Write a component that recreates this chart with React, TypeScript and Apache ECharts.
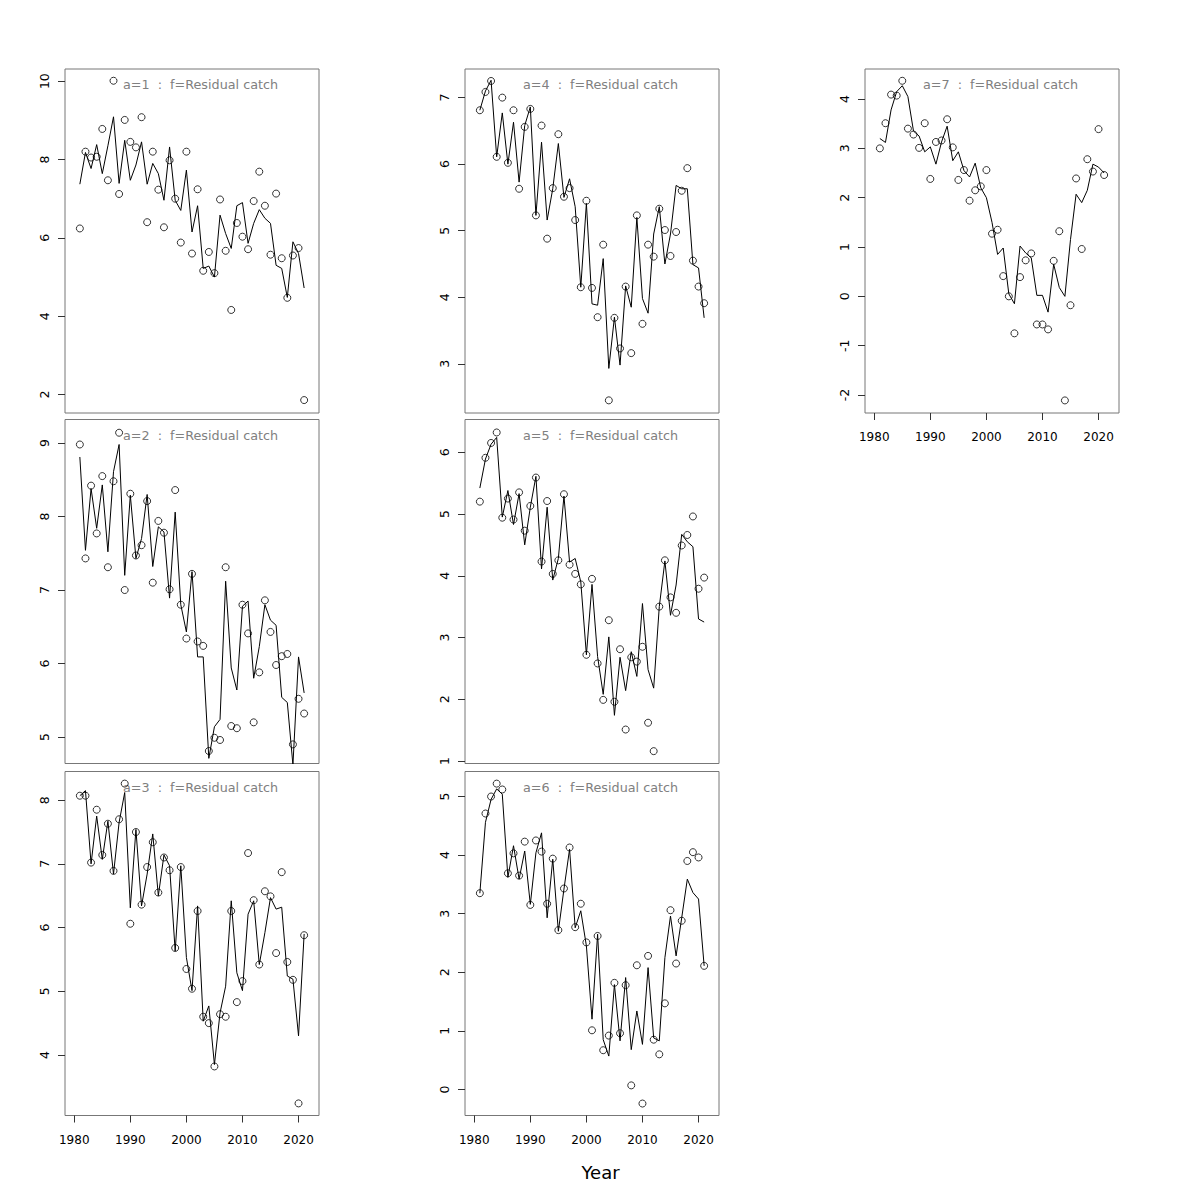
import React, { useEffect, useRef } from "react";
import * as echarts from "echarts";

const years = [
  1981, 1982, 1983, 1984, 1985, 1986, 1987, 1988, 1989, 1990,
  1991, 1992, 1993, 1994, 1995, 1996, 1997, 1998, 1999, 2000,
  2001, 2002, 2003, 2004, 2005, 2006, 2007, 2008, 2009, 2010,
  2011, 2012, 2013, 2014, 2015, 2016, 2017, 2018, 2019, 2020,
  2021,
];

const xTicks = [1980, 1990, 2000, 2010, 2020];

const obsA1 = [6.24, 8.2, 8.05, 8.07, 8.78, 7.47, 10.01, 7.12, 9.01, 8.45, 8.31, 9.08, 6.4, 8.2, 7.23, 6.27, 7.98, 7.0, 5.88, 8.2, 5.6, 7.24, 5.16, 5.64, 5.1, 6.98, 5.67, 4.16, 6.38, 6.03, 5.71, 6.94, 7.69, 6.82, 5.57, 7.13, 5.48, 4.47, 5.55, 5.74, 1.86];
const fitA1 = [7.37, 8.18, 7.77, 8.38, 7.64, 8.35, 9.09, 7.39, 8.49, 7.47, 7.86, 8.45, 7.37, 7.9, 7.64, 6.96, 8.32, 6.96, 6.7, 7.73, 6.15, 6.82, 5.22, 5.28, 5.0, 6.58, 6.11, 5.73, 6.82, 6.9, 5.86, 6.37, 6.72, 6.5, 6.37, 5.3, 5.22, 4.48, 5.9, 5.6, 4.72];

const obsA2 = [8.98, 7.43, 8.42, 7.77, 8.55, 7.31, 8.48, 9.14, 7.0, 8.31, 7.47, 7.61, 8.21, 7.1, 7.94, 7.78, 7.01, 8.36, 6.8, 6.34, 7.22, 6.3, 6.24, 4.81, 4.99, 4.96, 7.31, 5.15, 5.12, 6.8, 6.41, 5.2, 5.88, 6.86, 6.43, 5.98, 6.1, 6.13, 4.9, 5.52, 5.32];
const fitA2 = [8.81, 7.54, 8.38, 7.84, 8.43, 7.52, 8.61, 8.98, 7.2, 8.29, 7.43, 7.7, 8.3, 7.32, 7.86, 7.79, 6.89, 8.06, 6.8, 6.43, 7.25, 6.09, 6.09, 4.71, 5.14, 5.24, 7.12, 5.94, 5.64, 6.78, 6.85, 5.8, 6.23, 6.8, 6.59, 6.52, 5.54, 5.47, 4.62, 6.09, 5.6];

const obsA3 = [8.07, 8.07, 7.02, 7.85, 7.14, 7.63, 6.89, 7.7, 8.26, 6.06, 7.5, 6.36, 6.95, 7.34, 6.55, 7.1, 6.9, 5.68, 6.95, 5.35, 5.04, 6.26, 4.6, 4.5, 3.82, 4.64, 4.6, 6.26, 4.83, 5.16, 7.17, 6.43, 5.42, 6.57, 6.49, 5.6, 6.87, 5.46, 5.18, 3.24, 5.88];
const fitA3 = [8.07, 8.15, 7.0, 7.75, 7.07, 7.67, 6.84, 7.65, 8.12, 6.31, 7.54, 6.34, 6.84, 7.47, 6.5, 7.14, 6.97, 5.63, 6.97, 5.53, 5.01, 6.34, 4.53, 4.77, 3.85, 4.66, 5.08, 6.42, 5.29, 5.01, 6.21, 6.42, 5.42, 5.92, 6.47, 6.29, 6.32, 5.24, 5.19, 4.3, 5.9];

const obsA4 = [6.81, 7.085, 7.25, 6.11, 7.0, 6.02, 6.81, 5.63, 6.56, 6.83, 5.23, 6.58, 4.88, 5.64, 6.45, 5.51, 5.64, 5.16, 4.15, 5.45, 4.14, 3.7, 4.79, 2.45, 3.69, 3.23, 4.16, 3.16, 5.23, 3.6, 4.79, 4.61, 5.33, 5.01, 4.62, 4.98, 5.6, 5.94, 4.55, 4.16, 3.91];
const fitA4 = [6.81, 7.1, 7.26, 6.11, 6.77, 6.0, 6.63, 5.73, 6.58, 6.86, 5.23, 6.33, 5.16, 5.63, 6.31, 5.5, 5.78, 5.36, 4.15, 5.41, 3.9, 3.88, 4.58, 2.93, 3.7, 2.98, 4.17, 3.85, 5.2, 3.98, 3.76, 4.95, 5.36, 4.5, 4.95, 5.68, 5.63, 5.63, 4.49, 4.44, 3.69];

const obsA5 = [5.2, 5.91, 6.15, 6.32, 4.94, 5.25, 4.91, 5.35, 4.73, 5.13, 5.59, 4.23, 5.21, 4.03, 4.25, 5.32, 4.18, 4.03, 3.86, 2.72, 3.95, 2.58, 1.99, 3.28, 1.96, 2.81, 1.51, 2.68, 2.61, 2.85, 1.62, 1.16, 3.5, 4.25, 3.65, 3.4, 4.49, 4.66, 4.96, 3.79, 3.97];
const fitA5 = [5.42, 5.89, 6.13, 6.24, 4.95, 5.38, 4.83, 5.33, 4.5, 5.11, 5.61, 4.11, 5.11, 3.93, 4.28, 5.29, 4.22, 4.28, 3.9, 2.72, 3.86, 2.69, 2.08, 3.01, 1.74, 2.68, 2.14, 2.77, 2.37, 3.55, 2.48, 2.18, 3.5, 4.24, 3.36, 3.85, 4.67, 4.55, 4.47, 3.3, 3.25];

const obsA6 = [3.35, 4.71, 5.0, 5.22, 5.12, 3.69, 4.03, 3.65, 4.23, 3.15, 4.25, 4.06, 3.17, 3.94, 2.72, 3.43, 4.13, 2.77, 3.17, 2.51, 1.01, 2.62, 0.67, 0.92, 1.82, 0.96, 1.78, 0.07, 2.12, -0.24, 2.28, 0.85, 0.6, 1.47, 3.06, 2.15, 2.88, 3.9, 4.05, 3.96, 2.11];
const fitA6 = [3.35, 4.56, 4.95, 5.13, 5.04, 3.62, 4.16, 3.59, 4.07, 3.16, 4.04, 4.38, 2.93, 3.93, 2.7, 3.42, 4.1, 2.76, 3.05, 2.45, 1.2, 2.65, 0.85, 0.57, 1.79, 0.83, 1.91, 0.68, 1.34, 0.77, 2.08, 0.88, 0.83, 2.25, 2.96, 2.28, 2.93, 3.59, 3.36, 3.25, 2.11];

const obsA7 = [3.0, 3.51, 4.09, 4.07, 4.37, 3.4, 3.28, 3.01, 3.51, 2.38, 3.13, 3.16, 3.59, 3.02, 2.36, 2.56, 1.94, 2.15, 2.23, 2.56, 1.27, 1.35, 0.41, 0.0, -0.75, 0.39, 0.73, 0.87, -0.57, -0.57, -0.67, 0.72, 1.32, -2.11, -0.18, 2.39, 0.96, 2.78, 2.53, 3.39, 2.46];
const fitA7 = [3.2, 3.12, 3.78, 4.15, 4.27, 4.05, 3.35, 3.25, 2.93, 3.03, 2.68, 3.13, 3.45, 2.75, 2.93, 2.55, 2.42, 2.7, 2.2, 2.0, 1.5, 0.85, 0.98, 0.05, -0.15, 1.02, 0.88, 0.78, 0.02, 0.02, -0.32, 0.65, 0.18, 0.0, 1.15, 2.07, 1.9, 2.15, 2.68, 2.62, 2.5];

const panelLabels = [
  "a=1  :  f=Residual catch",
  "a=2  :  f=Residual catch",
  "a=3  :  f=Residual catch",
  "a=4  :  f=Residual catch",
  "a=5  :  f=Residual catch",
  "a=6  :  f=Residual catch",
  "a=7  :  f=Residual catch",
];

const yLimits = [
  [1.53, 10.31],
  [4.64, 9.32],
  [3.05, 8.45],
  [2.26, 7.43],
  [0.96, 6.53],
  [-0.444, 5.427],
  [-2.365, 4.609],
];

const yTicks = [
  [2, 4, 6, 8, 10],
  [5, 6, 7, 8, 9],
  [4, 5, 6, 7, 8],
  [3, 4, 5, 6, 7],
  [1, 2, 3, 4, 5, 6],
  [0, 1, 2, 3, 4, 5],
  [-2, -1, 0, 1, 2, 3, 4],
];

const xLabel = "Year";

const obsList = [obsA1, obsA2, obsA3, obsA4, obsA5, obsA6, obsA7];
const fitList = [fitA1, fitA2, fitA3, fitA4, fitA5, fitA6, fitA7];

const FONT = "DejaVu Sans";

export default function App() {
  const ref = useRef<HTMLDivElement>(null);

  useEffect(() => {
    if (!ref.current) return;
    const chart = echarts.init(ref.current, undefined, { renderer: "svg" });

    const colLeft = [65, 465, 865];
    const rowTop = [69, 419.5, 771.5];
    const place = [
      [0, 0],
      [0, 1],
      [0, 2],
      [1, 0],
      [1, 1],
      [1, 2],
      [2, 0],
    ];
    const showX = [false, false, true, false, false, true, true];
    const W = 254;
    const H = 344;

    const grids: any[] = [];
    const xAxes: any[] = [];
    const yAxes: any[] = [];
    const series: any[] = [];
    const graphics: any[] = [];

    for (let i = 0; i < 7; i++) {
      const [c, r] = place[i];
      grids.push({
        left: colLeft[c],
        top: rowTop[r],
        width: W,
        height: H,
        show: true,
        borderColor: "#777",
        borderWidth: 1,
        backgroundColor: "transparent",
        containLabel: false,
      });
      xAxes.push({
        type: "value",
        gridIndex: i,
        position: "bottom",
        min: 1978.35,
        max: 2023.65,
        splitLine: { show: false },
        axisLine: { show: false, onZero: false },
        axisTick: {
          show: showX[i],
          length: 7,
          inside: false,
          customValues: xTicks,
          lineStyle: { color: "#333", width: 1 },
        },
        axisLabel: {
          show: showX[i],
          customValues: xTicks,
          formatter: (v: number) => String(v),
          margin: 18,
          fontSize: 12,
          color: "#000",
          fontFamily: FONT,
        },
      });
      yAxes.push({
        type: "value",
        gridIndex: i,
        position: "left",
        min: yLimits[i][0],
        max: yLimits[i][1],
        splitLine: { show: false },
        axisLine: { show: false, onZero: false },
        axisTick: {
          show: true,
          length: 7,
          inside: false,
          customValues: yTicks[i],
          lineStyle: { color: "#333", width: 1 },
        },
        axisLabel: {
          show: true,
          rotate: 90,
          customValues: yTicks[i],
          formatter: (v: number) => String(v),
          margin: 14,
          fontSize: 12.5,
          color: "#000",
          fontFamily: FONT,
        },
      });
      series.push({
        type: "line",
        xAxisIndex: i,
        yAxisIndex: i,
        data: years.map((yr, k) => [yr, fitList[i][k]]),
        showSymbol: false,
        symbol: "none",
        lineStyle: { color: "#000", width: 1 },
        z: 2,
        silent: true,
        clip: true,
      });
      series.push({
        type: "scatter",
        xAxisIndex: i,
        yAxisIndex: i,
        data: years.map((yr, k) => [yr, obsList[i][k]]),
        symbol: "circle",
        symbolSize: 7,
        itemStyle: {
          color: "rgba(0,0,0,0)",
          borderColor: "#000",
          borderWidth: 1,
        },
        z: 3,
        silent: true,
      });
      graphics.push({
        type: "text",
        x: colLeft[c] + 135.5,
        y: rowTop[r] + 15.5,
        silent: true,
        style: {
          text: panelLabels[i],
          fill: "#808080",
          fontSize: 12.75,
          fontFamily: FONT,
          align: "center",
          verticalAlign: "middle",
        },
      });
    }

    graphics.push({
      type: "text",
      x: 600.5,
      y: 1172,
      silent: true,
      style: {
        text: xLabel,
        fill: "#000",
        fontSize: 18,
        fontFamily: FONT,
        align: "center",
        verticalAlign: "middle",
      },
    });

    chart.setOption({
      animation: false,
      backgroundColor: "#fff",
      grid: grids,
      xAxis: xAxes,
      yAxis: yAxes,
      series,
      graphic: graphics,
    });

    return () => {
      chart.dispose();
    };
  }, []);

  return (
    <div
      ref={ref}
      style={{ position: "absolute", left: 0, top: 0, width: 1200, height: 1200 }}
    />
  );
}
